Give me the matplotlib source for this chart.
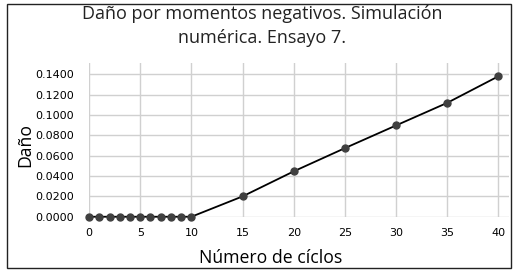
import matplotlib.pyplot as plt
from matplotlib.patches import Rectangle
from matplotlib.ticker import FormatStrFormatter

# Datos
ciclos = [0, 1, 2, 3, 4, 5, 6, 7, 8, 9, 10, 15, 20, 25, 30, 35, 40]
dano = [0, 0, 0, 0, 0, 0, 0, 0, 0, 0, 0,
        0.0200, 0.0446, 0.0674, 0.0897, 0.1119, 0.1380]
xticks = [0, 5, 10, 15, 20, 25, 30, 35, 40]
yticks = [0, 0.02, 0.04, 0.06, 0.08, 0.10, 0.12, 0.14]

fig = plt.figure(figsize=(5.18, 2.74), dpi=100)
ax = fig.add_axes([0.172, 0.209, 0.81, 0.561])

ax.plot(ciclos, dano, color='black', linewidth=1.3, marker='o',
        markersize=5, markerfacecolor='#404040', markeredgecolor='#404040',
        clip_on=False, zorder=3)

ax.set_xlim(0, 41)
ax.set_ylim(0, 0.151)
ax.set_xticks(xticks)
ax.set_yticks(yticks)
ax.yaxis.set_major_formatter(FormatStrFormatter('%.4f'))
ax.grid(True, color='#d0d0d0', linewidth=1)
ax.set_axisbelow(True)
for s in ax.spines.values():
    s.set_visible(False)
ax.tick_params(axis='y', length=0, labelsize=8, pad=11)
ax.tick_params(axis='x', length=0, labelsize=8, pad=8)

fig.text(262 / 518, 1 - 26 / 274,
         'Daño por momentos negativos. Simulación\nnumérica. Ensayo 7.',
         family='Open Sans', fontsize=13, color='#222222', ha='center',
         va='center', linespacing=1.45)
fig.text(271 / 518, 1 - 258 / 274, 'Número de cíclos', family='Open Sans',
         fontsize=12.7, ha='center', va='center')
fig.text(25 / 518, 1 - 145 / 274, 'Daño', family='Open Sans',
         fontsize=12.7, ha='center', va='center', rotation=90)

fig.patches.append(Rectangle((7 / 518, 1 - 268 / 274), 504 / 518, 264 / 274,
                             transform=fig.transFigure, fill=False,
                             edgecolor='#222222', linewidth=1))

fig.savefig('out.png', dpi=100)
